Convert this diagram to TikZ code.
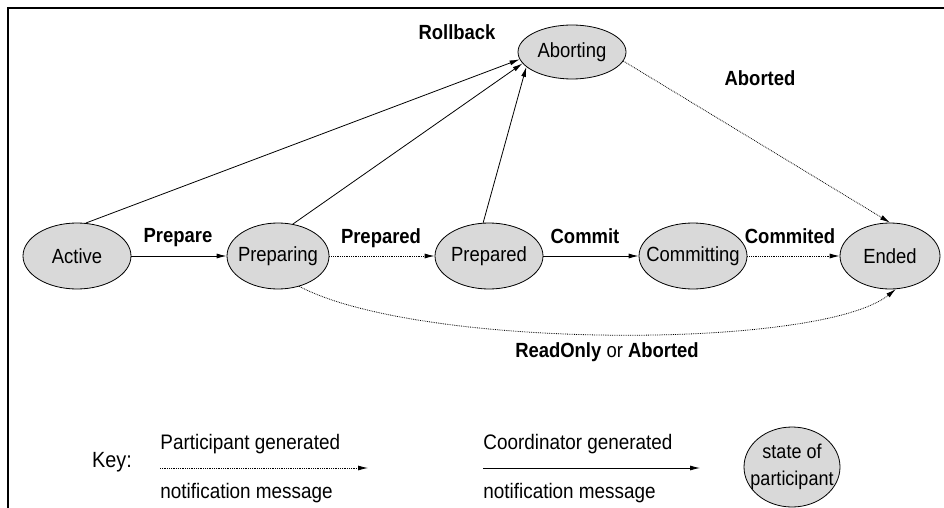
\documentclass[tikz,border=0pt]{standalone}
\usepackage{fontspec}
\setmainfont{Liberation Sans}[FakeStretch=0.9]
\usetikzlibrary{shapes.geometric,arrows.meta}
\begin{document}
\begin{tikzpicture}[x=1pt,y=-1pt,>={Latex[length=10pt,width=5pt]},line width=0.8pt,font=\fontsize{20.5}{24}\selectfont]
      \tikzset{state/.style={draw, ellipse, fill=gray!30, inner xsep=-10pt, inner ysep=0pt, minimum width=108pt, minimum height=66pt},
        msg/.style={font=\fontsize{20.5}{24}\selectfont\bfseries},
        keytext/.style={anchor=west, inner sep=0pt, font=\fontsize{21}{24}\selectfont},
        part/.style={->, densely dotted},
        coord/.style={->}}
      \useasboundingbox (0,0) rectangle (944,508);
      \draw[line width=1.2pt] (8,508) -- (8,8) -- (944,8);
      \node[state] (active) at (77,256) {Active};
      \node[state, minimum width=102pt] (preparing) at (278,256) {Preparing};
      \node[state] (prepared) at (489,256) {Prepared};
      \node[state] (committing) at (693,256) {Committing};
      \node[state, minimum width=100pt] (ended) at (890,256) {Ended};
      \node[state, minimum height=54pt] (aborting) at (572,52) {Aborting};
      \node[msg] (lprepare) at (178,238) {Prepare};
      \node[msg] (lprepared) at (381,238) {Prepared};
      \node[msg] (lcommit) at (585,236) {Commit};
      \node[msg] (lcommited) at (790,236) {Commited};
      \node[msg] (lrollback) at (457,32) {Rollback};
      \node[msg] (laborted) at (760,78) {Aborted};
      \node (lreadonly) at (607,352) {\textbf{ReadOnly} or \textbf{Aborted}};
      \draw[coord] (active) -- (preparing);
      \draw[part] (preparing) -- (prepared);
      \draw[coord] (prepared) -- (committing);
      \draw[part] (committing) -- (ended);
      \draw[coord] (active.75) -- (aborting.188);
      \draw[coord] (preparing.65) -- (aborting.193);
      \draw[coord] (prepared.100) -- (aborting.198);
      \draw[part] (aborting.-10) -- (ended.north);
      \draw[part] (preparing.-55) .. controls (420,350) and (820,350) .. (ended.-80);
      % key
      \node (key) at (112,462) {\fontsize{22}{24}\selectfont Key:};
      \node[keytext] (ptext) at (160,444) {Participant generated};
      \node[keytext] (pnote) at (160,493) {notification message};
      \coordinate (ps) at (160,468);
      \coordinate (pe) at (368,468);
      \draw[part] (ps) -- (pe);
      \node[keytext] (ctext) at (483,444) {Coordinator generated};
      \node[keytext] (cnote) at (483,493) {notification message};
      \coordinate (cs) at (483,468);
      \coordinate (ce) at (700,468);
      \draw[coord] (cs) -- (ce);
      \node[state, minimum width=96pt, minimum height=80pt, align=center, font=\fontsize{20}{27}\selectfont] (keystate) at (792,467) {state of\\participant};
    \end{tikzpicture}
\end{document}
